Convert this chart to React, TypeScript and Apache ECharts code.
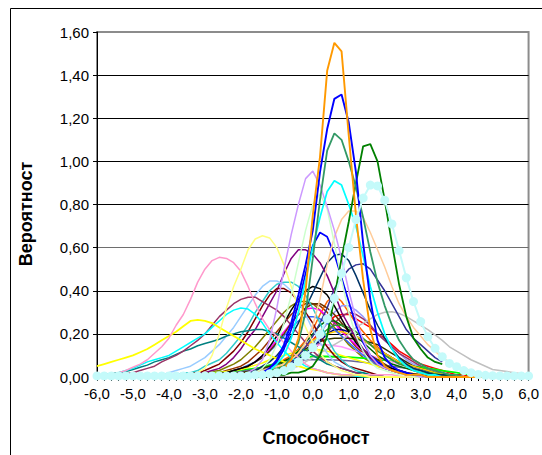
import React, { useEffect, useRef } from "react";
import * as echarts from "echarts";

// Ability categories (x axis), step 0.2
const abilityCategories = [
  -6.0, -5.8, -5.6, -5.4, -5.2, -5.0, -4.8, -4.6, -4.4, -4.2,
  -4.0, -3.8, -3.6, -3.4, -3.2, -3.0, -2.8, -2.6, -2.4, -2.2,
  -2.0, -1.8, -1.6, -1.4, -1.2, -1.0, -0.8, -0.6, -0.4, -0.2,
  0.0, 0.2, 0.4, 0.6, 0.8, 1.0, 1.2, 1.4, 1.6, 1.8,
  2.0, 2.2, 2.4, 2.6, 2.8, 3.0, 3.2, 3.4, 3.6, 3.8,
  4.0, 4.2, 4.4, 4.6, 4.8, 5.0, 5.2, 5.4, 5.6, 5.8, 6.0,
];
const yTicks = [0, 0.2, 0.4, 0.6, 0.8, 1.0, 1.2, 1.4, 1.6];

// ---- series values (rows of 10: -6..-4.2, -4..-2.2, -2..-0.2, 0..1.8, 2..3.8, 4..6.0) ----
const olive = [
  0, 0, 0, 0, 0, 0, 0, 0, 0, 0,
  0, 0.005, 0.01, 0.01, 0.015, 0.02, 0.025, 0.03, 0.045, 0.06,
  0.08, 0.11, 0.14, 0.18, 0.22, 0.26, 0.3, 0.33, 0.35, 0.35,
  0.34, 0.31, 0.27, 0.23, 0.19, 0.15, 0.12, 0.09, 0.07, 0.05,
  0.04, 0.03, 0.02, 0.015, 0.01, 0.01, 0, 0, 0, 0,
  0, 0, 0, 0, 0, 0, 0, 0, 0, 0, 0,
];
const rust = [
  0, 0, 0, 0, 0, 0, 0, 0, 0, 0,
  0, 0, 0, 0, 0, 0.01, 0.015, 0.02, 0.03, 0.04,
  0.05, 0.07, 0.1, 0.13, 0.17, 0.21, 0.25, 0.29, 0.32, 0.34,
  0.34, 0.33, 0.3, 0.26, 0.22, 0.18, 0.14, 0.11, 0.08, 0.06,
  0.04, 0.03, 0.02, 0.015, 0.01, 0.01, 0, 0, 0, 0,
  0, 0, 0, 0, 0, 0, 0, 0, 0, 0, 0,
];
const red = [
  0, 0, 0, 0, 0, 0, 0, 0, 0, 0,
  0, 0, 0, 0, 0, 0, 0.005, 0.01, 0.01, 0.015,
  0.02, 0.025, 0.03, 0.04, 0.05, 0.06, 0.07, 0.09, 0.11, 0.14,
  0.17, 0.21, 0.25, 0.28, 0.29, 0.29, 0.27, 0.25, 0.23, 0.2,
  0.18, 0.15, 0.12, 0.1, 0.08, 0.06, 0.05, 0.04, 0.03, 0.02,
  0.01, 0.01, 0, 0, 0, 0, 0, 0, 0, 0, 0,
];
const darkOrange = [
  0, 0, 0, 0, 0, 0, 0, 0, 0, 0,
  0, 0, 0, 0, 0, 0, 0.005, 0.01, 0.01, 0.015,
  0.02, 0.025, 0.03, 0.04, 0.05, 0.06, 0.08, 0.1, 0.13, 0.17,
  0.22, 0.29, 0.35, 0.38, 0.35, 0.3, 0.25, 0.21, 0.17, 0.14,
  0.11, 0.09, 0.07, 0.05, 0.04, 0.03, 0.02, 0.015, 0.01, 0.01,
  0, 0, 0, 0, 0, 0, 0, 0, 0, 0, 0,
];
const magenta = [
  0, 0, 0, 0, 0, 0, 0, 0, 0, 0,
  0, 0, 0, 0, 0, 0.005, 0.01, 0.015, 0.02, 0.025,
  0.035, 0.05, 0.07, 0.1, 0.13, 0.17, 0.21, 0.25, 0.29, 0.315,
  0.32, 0.31, 0.28, 0.25, 0.21, 0.18, 0.15, 0.12, 0.09, 0.07,
  0.05, 0.04, 0.03, 0.02, 0.015, 0.01, 0, 0, 0, 0,
  0, 0, 0, 0, 0, 0, 0, 0, 0, 0, 0,
];
const periwinkle = [
  0, 0, 0, 0, 0, 0, 0, 0, 0, 0,
  0, 0, 0, 0, 0, 0, 0, 0, 0, 0,
  0.01, 0.015, 0.02, 0.025, 0.03, 0.04, 0.05, 0.07, 0.09, 0.12,
  0.16, 0.2, 0.25, 0.3, 0.33, 0.33, 0.31, 0.28, 0.24, 0.2,
  0.17, 0.14, 0.11, 0.08, 0.06, 0.05, 0.04, 0.03, 0.02, 0.01,
  0, 0, 0, 0, 0, 0, 0, 0, 0, 0, 0,
];
const wine = [
  0, 0, 0, 0, 0, 0, 0, 0, 0, 0,
  0, 0, 0, 0, 0, 0, 0, 0, 0, 0,
  0.01, 0.01, 0.015, 0.02, 0.025, 0.03, 0.04, 0.05, 0.07, 0.09,
  0.12, 0.16, 0.2, 0.25, 0.28, 0.3, 0.29, 0.27, 0.24, 0.2,
  0.17, 0.14, 0.11, 0.09, 0.07, 0.05, 0.04, 0.03, 0.02, 0.01,
  0, 0, 0, 0, 0, 0, 0, 0, 0, 0, 0,
];
const greenFlat = [
  0.01, 0.01, 0.01, 0.01, 0.01, 0.01, 0.01, 0.01, 0.01, 0.01,
  0.01, 0.01, 0.012, 0.013, 0.015, 0.015, 0.017, 0.02, 0.022, 0.025,
  0.03, 0.035, 0.04, 0.045, 0.055, 0.063, 0.07, 0.08, 0.09, 0.092,
  0.095, 0.095, 0.095, 0.094, 0.093, 0.092, 0.09, 0.088, 0.085, 0.08,
  0.078, 0.072, 0.065, 0.058, 0.05, 0.045, 0.04, 0.035, 0.03, 0.025,
  0.02, 0.015, 0.01, 0.01, 0.005, 0.005, 0.005, 0.005, 0.005, 0.005, 0.005,
];
const grayBlue = [
  0, 0, 0, 0, 0, 0, 0, 0, 0, 0,
  0, 0, 0, 0, 0, 0.005, 0.01, 0.01, 0.015, 0.02,
  0.025, 0.03, 0.035, 0.04, 0.05, 0.055, 0.06, 0.07, 0.075, 0.08,
  0.08, 0.08, 0.08, 0.079, 0.078, 0.075, 0.072, 0.068, 0.064, 0.06,
  0.055, 0.05, 0.045, 0.04, 0.035, 0.03, 0.025, 0.02, 0.015, 0.01,
  0, 0, 0, 0, 0, 0, 0, 0, 0, 0, 0,
];
const lightMagenta = [
  0, 0, 0, 0, 0, 0, 0, 0, 0, 0,
  0, 0, 0, 0, 0, 0, 0, 0, 0, 0,
  0.01, 0.015, 0.02, 0.03, 0.04, 0.05, 0.07, 0.09, 0.11, 0.13,
  0.14, 0.15, 0.15, 0.145, 0.14, 0.13, 0.12, 0.11, 0.1, 0.09,
  0.08, 0.07, 0.06, 0.05, 0.04, 0.03, 0.02, 0.015, 0.01, 0.01,
  0, 0, 0, 0, 0, 0, 0, 0, 0, 0, 0,
];
const yellowLow = [
  0, 0, 0, 0, 0, 0, 0, 0, 0, 0,
  0, 0, 0, 0, 0, 0.01, 0.015, 0.02, 0.025, 0.03,
  0.035, 0.045, 0.055, 0.065, 0.08, 0.09, 0.1, 0.11, 0.12, 0.125,
  0.13, 0.125, 0.12, 0.11, 0.1, 0.09, 0.08, 0.07, 0.06, 0.05,
  0.04, 0.03, 0.025, 0.02, 0.015, 0.01, 0.01, 0, 0, 0,
  0, 0, 0, 0, 0, 0, 0, 0, 0, 0, 0,
];
const darkOlive = [
  0, 0, 0, 0, 0, 0, 0, 0, 0, 0,
  0, 0, 0, 0, 0, 0, 0.005, 0.01, 0.01, 0.015,
  0.02, 0.025, 0.03, 0.04, 0.05, 0.06, 0.075, 0.09, 0.11, 0.13,
  0.15, 0.165, 0.175, 0.18, 0.18, 0.18, 0.175, 0.17, 0.16, 0.15,
  0.13, 0.11, 0.09, 0.07, 0.05, 0.04, 0.03, 0.02, 0.015, 0.01,
  0, 0, 0, 0, 0, 0, 0, 0, 0, 0, 0,
];
const forest = [
  0, 0, 0, 0, 0, 0, 0, 0, 0, 0,
  0, 0, 0, 0, 0, 0, 0, 0, 0, 0,
  0.01, 0.015, 0.02, 0.03, 0.04, 0.05, 0.07, 0.09, 0.12, 0.16,
  0.2, 0.24, 0.26, 0.26, 0.24, 0.22, 0.19, 0.16, 0.13, 0.1,
  0.08, 0.06, 0.05, 0.04, 0.03, 0.02, 0.015, 0.01, 0.01, 0.005,
  0, 0, 0, 0, 0, 0, 0, 0, 0, 0, 0,
];
const navy = [
  0, 0, 0, 0, 0, 0, 0, 0, 0, 0,
  0, 0, 0, 0, 0, 0, 0, 0, 0, 0,
  0.005, 0.01, 0.015, 0.02, 0.025, 0.03, 0.04, 0.06, 0.08, 0.11,
  0.14, 0.17, 0.2, 0.22, 0.22, 0.21, 0.19, 0.17, 0.15, 0.13,
  0.11, 0.09, 0.07, 0.06, 0.05, 0.04, 0.03, 0.02, 0.015, 0.01,
  0, 0, 0, 0, 0, 0, 0, 0, 0, 0, 0,
];
const gold = [
  0, 0, 0, 0, 0, 0, 0, 0, 0, 0,
  0, 0, 0, 0, 0, 0, 0, 0, 0, 0,
  0.01, 0.015, 0.02, 0.025, 0.03, 0.04, 0.06, 0.08, 0.11, 0.14,
  0.17, 0.19, 0.2, 0.21, 0.21, 0.2, 0.19, 0.17, 0.15, 0.13,
  0.11, 0.09, 0.07, 0.06, 0.05, 0.04, 0.03, 0.02, 0.015, 0.01,
  0, 0, 0, 0, 0, 0, 0, 0, 0, 0, 0,
];
const steelBlue = [
  0, 0, 0, 0, 0, 0, 0, 0, 0, 0,
  0, 0, 0, 0, 0, 0.005, 0.01, 0.015, 0.02, 0.03,
  0.04, 0.055, 0.07, 0.09, 0.12, 0.15, 0.19, 0.23, 0.26, 0.28,
  0.28, 0.27, 0.25, 0.22, 0.19, 0.16, 0.13, 0.1, 0.08, 0.06,
  0.04, 0.03, 0.02, 0.015, 0.01, 0, 0, 0, 0, 0,
  0, 0, 0, 0, 0, 0, 0, 0, 0, 0, 0,
];
const darkBrown = [
  0, 0, 0, 0, 0, 0, 0, 0, 0, 0,
  0, 0, 0, 0, 0, 0.005, 0.01, 0.015, 0.02, 0.03,
  0.04, 0.05, 0.07, 0.09, 0.12, 0.16, 0.2, 0.25, 0.29, 0.32,
  0.34, 0.34, 0.32, 0.29, 0.25, 0.21, 0.17, 0.13, 0.1, 0.08,
  0.06, 0.04, 0.03, 0.02, 0.015, 0.01, 0, 0, 0, 0,
  0, 0, 0, 0, 0, 0, 0, 0, 0, 0, 0,
];
const leafGreen = [
  0, 0, 0, 0, 0, 0, 0, 0, 0, 0,
  0, 0, 0, 0, 0, 0, 0, 0, 0, 0,
  0.01, 0.015, 0.02, 0.025, 0.03, 0.04, 0.05, 0.07, 0.09, 0.12,
  0.15, 0.19, 0.22, 0.24, 0.24, 0.23, 0.21, 0.18, 0.15, 0.12,
  0.1, 0.08, 0.06, 0.05, 0.04, 0.03, 0.02, 0.015, 0.01, 0.01,
  0, 0, 0, 0, 0, 0, 0, 0, 0, 0, 0,
];
const black = [
  0, 0, 0, 0, 0, 0, 0, 0, 0, 0,
  0, 0, 0, 0, 0, 0.005, 0.01, 0.015, 0.02, 0.03,
  0.04, 0.05, 0.07, 0.1, 0.14, 0.19, 0.25, 0.31, 0.36, 0.4,
  0.42, 0.41, 0.38, 0.33, 0.27, 0.21, 0.16, 0.12, 0.09, 0.07,
  0.05, 0.04, 0.03, 0.02, 0.01, 0.01, 0, 0, 0, 0,
  0, 0, 0, 0, 0, 0, 0, 0, 0, 0, 0,
];
const silver = [
  0, 0, 0, 0, 0, 0, 0, 0, 0, 0,
  0, 0, 0, 0, 0, 0, 0, 0, 0, 0.005,
  0.005, 0.008, 0.01, 0.012, 0.015, 0.02, 0.025, 0.04, 0.05, 0.07,
  0.09, 0.11, 0.13, 0.15, 0.17, 0.2, 0.23, 0.25, 0.27, 0.29,
  0.3, 0.303, 0.295, 0.28, 0.26, 0.24, 0.22, 0.195, 0.17, 0.14,
  0.12, 0.1, 0.08, 0.065, 0.05, 0.035, 0.03, 0.025, 0.02, 0.015, 0.01,
];
const slate = [
  0, 0, 0, 0, 0, 0, 0, 0, 0, 0,
  0, 0, 0, 0, 0, 0, 0, 0, 0, 0,
  0, 0.005, 0.01, 0.015, 0.02, 0.03, 0.05, 0.07, 0.1, 0.14,
  0.19, 0.25, 0.32, 0.41, 0.46, 0.5, 0.52, 0.525, 0.5, 0.45,
  0.4, 0.34, 0.28, 0.22, 0.18, 0.15, 0.12, 0.09, 0.07, null,
  null, null, null, null, null, null, null, null, null, null, null,
];
const navyTeal = [
  0, 0, 0, 0, 0, 0, 0, 0, 0, 0,
  0, 0, 0, 0, 0, 0, 0, 0, 0, 0,
  0.01, 0.015, 0.03, 0.05, 0.07, 0.1, 0.14, 0.19, 0.25, 0.32,
  0.39, 0.46, 0.53, 0.565, 0.57, 0.54, 0.47, 0.39, 0.31, 0.24,
  0.18, 0.13, 0.09, 0.06, 0.04, 0.03, 0.02, 0.01, 0.01, 0.01,
  0, 0, 0, 0, 0, 0, 0, 0, 0, 0, 0,
];
const purple = [
  0, 0, 0, 0, 0, 0, 0, 0, 0, 0,
  0, 0, 0.01, 0.01, 0.02, 0.02, 0.03, 0.04, 0.06, 0.09,
  0.13, 0.18, 0.22, 0.28, 0.34, 0.4, 0.48, 0.55, 0.59, 0.59,
  0.57, 0.53, 0.47, 0.39, 0.3, 0.24, 0.18, 0.13, 0.09, 0.06,
  0.04, 0.03, 0.02, 0.01, 0.01, 0, 0, 0, 0, 0,
  0, 0, 0, 0, 0, 0, 0, 0, 0, 0, 0,
];
const maroon = [
  0, 0, 0, 0, 0, 0, 0, 0, 0, 0,
  0, 0.01, 0.01, 0.02, 0.02, 0.03, 0.045, 0.06, 0.09, 0.12,
  0.16, 0.21, 0.27, 0.33, 0.38, 0.41, 0.41, 0.39, 0.35, 0.3,
  0.25, 0.19, 0.14, 0.1, 0.07, 0.05, 0.04, 0.03, 0.02, 0.01,
  0, 0, 0, 0, 0, 0, 0, 0, 0, 0,
  0, 0, 0, 0, 0, 0, 0, 0, 0, 0, 0,
];
const turquoise = [
  0, 0, 0, 0, 0, 0, 0, 0, 0, 0,
  0.01, 0.01, 0.02, 0.02, 0.03, 0.05, 0.065, 0.08, 0.11, 0.15,
  0.19, 0.24, 0.3, 0.35, 0.4, 0.43, 0.44, 0.44, 0.42, 0.38,
  0.32, 0.25, 0.18, 0.12, 0.08, 0.05, 0.03, 0.02, 0.01, 0.01,
  0, 0, 0, 0, 0, 0, 0, 0, 0, 0,
  0, 0, 0, 0, 0, 0, 0, 0, 0, 0, 0,
];
const lightBlue = [
  0, 0, 0, 0, 0, 0, 0, 0, 0, 0.01,
  0.02, 0.03, 0.04, 0.05, 0.07, 0.09, 0.12, 0.15, 0.19, 0.23,
  0.28, 0.33, 0.38, 0.42, 0.445, 0.445, 0.43, 0.4, 0.35, 0.29,
  0.22, 0.16, 0.11, 0.07, 0.05, 0.03, 0.02, 0.01, 0.01, 0.01,
  0, 0, 0, 0, 0, 0, 0, 0, 0, 0,
  0, 0, 0, 0, 0, 0, 0, 0, 0, 0, 0,
];
const tealBroad = [
  0.005, 0.01, 0.015, 0.02, 0.025, 0.035, 0.045, 0.055, 0.07, 0.08,
  0.09, 0.105, 0.12, 0.13, 0.145, 0.155, 0.165, 0.175, 0.19, 0.2,
  0.21, 0.215, 0.22, 0.22, 0.21, 0.2, 0.18, 0.16, 0.14, 0.12,
  0.1, 0.08, 0.06, 0.05, 0.04, 0.03, 0.02, 0.02, 0.01, 0.01,
  0, 0, 0, 0, 0, 0, 0, 0, 0, 0,
  0, 0, 0, 0, 0, 0, 0, 0, 0, 0, 0,
];
const plumLeft = [
  0, 0.005, 0.01, 0.01, 0.015, 0.02, 0.03, 0.04, 0.05, 0.07,
  0.085, 0.1, 0.12, 0.145, 0.17, 0.2, 0.24, 0.28, 0.31, 0.34,
  0.36, 0.37, 0.37, 0.35, 0.33, 0.31, 0.28, 0.24, 0.2, 0.16,
  0.12, 0.09, 0.07, 0.05, 0.04, 0.03, 0.02, 0.01, 0.01, 0.01,
  0, 0, 0, 0, 0, 0, 0, 0, 0, 0,
  0, 0, 0, 0, 0, 0, 0, 0, 0, 0, 0,
];
const cyanBroad = [
  0.005, 0.008, 0.01, 0.02, 0.03, 0.04, 0.055, 0.07, 0.08, 0.09,
  0.1, 0.12, 0.14, 0.16, 0.18, 0.2, 0.23, 0.26, 0.29, 0.31,
  0.32, 0.315, 0.29, 0.25, 0.2, 0.16, 0.12, 0.09, 0.07, 0.05,
  0.04, 0.03, 0.02, 0.015, 0.01, 0.01, 0.005, 0, 0, 0,
  0, 0, 0, 0, 0, 0, 0, 0, 0, 0,
  0, 0, 0, 0, 0, 0, 0, 0, 0, 0, 0,
];
const yellowBroad = [
  0.05, 0.06, 0.07, 0.08, 0.09, 0.1, 0.115, 0.13, 0.15, 0.17,
  0.19, 0.21, 0.235, 0.26, 0.265, 0.26, 0.25, 0.23, 0.21, 0.19,
  0.17, 0.15, 0.13, 0.115, 0.1, 0.085, 0.07, 0.06, 0.05, 0.04,
  0.035, 0.03, 0.02, 0.015, 0.01, 0.01, 0.01, 0.005, 0, 0,
  0, 0, 0, 0, 0, 0, 0, 0, 0, 0,
  0, 0, 0, 0, 0, 0, 0, 0, 0, 0, 0,
];
const pink = [
  0, 0.005, 0.01, 0.02, 0.03, 0.045, 0.06, 0.08, 0.11, 0.14,
  0.18, 0.24, 0.29, 0.36, 0.44, 0.5, 0.54, 0.555, 0.55, 0.53,
  0.49, 0.42, 0.34, 0.27, 0.22, 0.19, 0.16, 0.12, 0.09, 0.06,
  0.04, 0.03, 0.02, 0.015, 0.01, 0.01, 0.01, 0.01, 0.01, 0.01,
  0.01, 0.01, 0.005, 0, 0, 0, 0, 0, 0, 0,
  0, 0, 0, 0, 0, 0, 0, 0, 0, 0, 0,
];
const paleYellow = [
  0, 0, 0, 0, 0, 0, 0, 0, 0, 0,
  0, 0, 0.01, 0.01, 0.02, 0.04, 0.1, 0.2, 0.32, 0.42,
  0.5, 0.59, 0.64, 0.655, 0.645, 0.6, 0.52, 0.42, 0.32, 0.23,
  0.16, 0.11, 0.07, 0.05, 0.03, 0.02, 0.01, 0.01, 0, 0,
  0, 0, 0, 0, 0, 0, 0, 0, 0, 0,
  0, 0, 0, 0, 0, 0, 0, 0, 0, 0, 0,
];
const blueMid = [
  0, 0, 0, 0, 0, 0, 0, 0, 0, 0,
  0, 0, 0, 0, 0, 0, 0, 0, 0, 0,
  0, 0.01, 0.01, 0.02, 0.04, 0.07, 0.13, 0.22, 0.34, 0.48,
  0.61, 0.67, 0.65, 0.57, 0.46, 0.35, 0.24, 0.16, 0.1, 0.07,
  0.05, 0.03, 0.02, 0.01, 0.01, 0, 0, 0, 0, 0,
  0, 0, 0, 0, 0, 0, 0, 0, 0, 0, 0,
];
const peach = [
  0, 0, 0, 0, 0, 0, 0, 0, 0, 0,
  0, 0, 0, 0, 0, 0, 0, 0, 0, 0,
  0.01, 0.01, 0.02, 0.03, 0.04, 0.05, 0.06, 0.08, 0.11, 0.16,
  0.24, 0.36, 0.52, 0.65, 0.73, 0.77, 0.77, 0.74, 0.67, 0.59,
  0.51, 0.42, 0.34, 0.28, 0.23, 0.19, 0.15, 0.12, 0.09, 0.07,
  0.05, 0.04, 0.03, 0.02, 0.01, 0.01, 0, 0, 0, 0, 0,
];
const paleGreen = [
  0, 0, 0, 0, 0, 0, 0, 0, 0, 0,
  0, 0, 0, 0, 0, 0, 0, 0, 0, 0,
  0, 0.01, 0.02, 0.04, 0.08, 0.15, 0.25, 0.38, 0.53, 0.68,
  0.8, 0.85, 0.78, 0.62, 0.45, 0.3, 0.19, 0.12, 0.07, 0.04,
  0.03, 0.02, 0.01, 0.01, 0, 0, 0, 0, 0, 0,
  0, 0, 0, 0, 0, 0, 0, 0, 0, 0, 0,
];
const lavender = [
  0, 0, 0, 0, 0, 0, 0, 0, 0, 0,
  0, 0, 0, 0, 0, 0, 0, 0, 0, 0.005,
  0.01, 0.02, 0.04, 0.08, 0.17, 0.32, 0.5, 0.66, 0.8, 0.92,
  0.955, 0.89, 0.79, 0.68, 0.55, 0.4, 0.27, 0.17, 0.1, 0.06,
  0.04, 0.03, 0.02, 0.01, 0.01, 0, 0, 0, 0, 0,
  0, 0, 0, 0, 0, 0, 0, 0, 0, 0, 0,
];
const cyanPeak = [
  0, 0, 0, 0, 0, 0, 0, 0, 0, 0,
  0, 0, 0, 0, 0, 0, 0, 0, 0, 0,
  0, 0.01, 0.01, 0.02, 0.03, 0.06, 0.1, 0.18, 0.3, 0.45,
  0.6, 0.74, 0.86, 0.91, 0.89, 0.8, 0.7, 0.56, 0.42, 0.3,
  0.2, 0.13, 0.08, 0.05, 0.03, 0.02, 0.01, 0.01, 0, 0,
  0, 0, 0, 0, 0, 0, 0, 0, 0, 0, 0,
];
const darkGreen = [
  0, 0, 0, 0, 0, 0, 0, 0, 0, 0,
  0, 0, 0, 0, 0, 0, 0, 0, 0, 0,
  0, 0, 0, 0, 0.01, 0.01, 0.01, 0.02, 0.02, 0.03,
  0.05, 0.1, 0.19, 0.37, 0.55, 0.72, 0.9, 1.07, 1.08, 1.0,
  0.82, 0.62, 0.43, 0.28, 0.18, 0.13, 0.09, 0.07, 0.06, null,
  null, null, null, null, null, null, null, null, null, null, null,
];
const seaGreen = [
  0, 0, 0, 0, 0, 0, 0, 0, 0, 0,
  0, 0, 0, 0, 0, 0, 0, 0, 0, 0,
  0, 0, 0, 0.01, 0.02, 0.03, 0.05, 0.09, 0.16, 0.3,
  0.55, 0.82, 1.05, 1.13, 1.1, 1.0, 0.88, 0.74, 0.58, 0.44,
  0.33, 0.24, 0.17, 0.12, 0.08, 0.06, 0.04, 0.03, 0.02, 0.01,
  0.01, 0, 0, 0, 0, 0, 0, 0, 0, 0, 0,
];
const bluePeak = [
  0, 0, 0, 0, 0, 0, 0, 0, 0, 0,
  0, 0, 0, 0, 0, 0, 0, 0, 0, 0,
  0, 0, 0.01, 0.02, 0.04, 0.08, 0.15, 0.25, 0.38, 0.52,
  0.68, 0.95, 1.15, 1.29, 1.31, 1.18, 0.95, 0.62, 0.36, 0.17,
  0.09, 0.05, 0.03, 0.02, 0.01, 0.01, 0, 0, 0, 0,
  0, 0, 0, 0, 0, 0, 0, 0, 0, 0, 0,
];
const orangePeak = [
  0, 0, 0, 0, 0, 0, 0, 0, 0, 0,
  0, 0, 0, 0, 0, 0, 0, 0, 0, 0,
  0, 0, 0, 0.01, 0.01, 0.02, 0.04, 0.08, 0.18, 0.4,
  0.75, 1.02, 1.42, 1.55, 1.51, 1.12, 0.75, 0.45, 0.22, 0.1,
  0.05, 0.03, 0.02, 0.01, 0.01, 0.01, 0, 0, 0, 0,
  0, 0, 0, 0, 0, 0, 0, 0, 0, 0, 0,
];
const cyanDots = [
  0.005, 0.005, 0.005, 0.005, 0.005, 0.005, 0.005, 0.005, 0.005, 0.005,
  0.005, 0.005, 0.005, 0.005, 0.005, 0.005, 0.005, 0.005, 0.005, 0.005,
  0.005, 0.005, 0.01, 0.01, 0.015, 0.02, 0.03, 0.048, 0.07, 0.1,
  0.136, 0.198, 0.27, 0.365, 0.48, 0.6, 0.73, 0.83, 0.89, 0.886,
  0.82, 0.71, 0.586, 0.46, 0.35, 0.257, 0.187, 0.133, 0.094, 0.063,
  0.048, 0.03, 0.02, 0.012, 0.008, 0.006, 0.005, 0.005, 0.005, 0.005, 0.005,
];

const curveList: [any[], string, number][] = [
  [olive, "#808000", 1.5],
  [rust, "#993300", 1.5],
  [red, "#FF0000", 1.5],
  [darkOrange, "#FF6600", 1.5],
  [magenta, "#FF00FF", 1.5],
  [periwinkle, "#9999FF", 1.5],
  [wine, "#993366", 1.5],
  [greenFlat, "#00FF00", 1.8],
  [grayBlue, "#666699", 1.5],
  [lightMagenta, "#FF99FF", 1.5],
  [yellowLow, "#FFFF00", 1.5],
  [darkOlive, "#333300", 1.5],
  [forest, "#006600", 1.5],
  [navy, "#000080", 1.5],
  [gold, "#FFCC00", 1.5],
  [steelBlue, "#3366FF", 1.5],
  [darkBrown, "#663300", 1.5],
  [leafGreen, "#339933", 1.5],
  [black, "#000000", 1.5],
  [silver, "#C0C0C0", 1.5],
  [slate, "#333399", 1.5],
  [navyTeal, "#003366", 1.5],
  [purple, "#800080", 1.5],
  [maroon, "#800000", 1.5],
  [turquoise, "#33CCCC", 1.5],
  [lightBlue, "#99CCFF", 1.5],
  [tealBroad, "#008080", 1.5],
  [plumLeft, "#993366", 1.5],
  [cyanBroad, "#00FFFF", 1.5],
  [yellowBroad, "#FFFF00", 1.8],
  [pink, "#FF99CC", 1.5],
  [paleYellow, "#FFFF80", 1.5],
  [blueMid, "#0000FF", 1.7],
  [peach, "#FFCC99", 1.5],
  [paleGreen, "#CCFFCC", 1.5],
  [lavender, "#CC99FF", 1.5],
  [cyanPeak, "#00FFFF", 1.7],
  [darkGreen, "#008000", 1.8],
  [seaGreen, "#339966", 1.8],
  [bluePeak, "#0000FF", 1.9],
  [orangePeak, "#FF9900", 1.9],
];

const FONT = "Liberation Sans, Arial, sans-serif";

export default function App() {
  const ref = useRef<HTMLDivElement>(null);
  useEffect(() => {
    if (!ref.current) return;
    const chart = echarts.init(ref.current, null, { renderer: "svg" });
    const series: any[] = curveList.map(([data, color, width], i) => ({
      type: "line",
      name: "s" + i,
      data,
      showSymbol: false,
      symbol: "none",
      smooth: false,
      lineStyle: { color, width },
      itemStyle: { color },
      z: 2,
    }));
    series.push({
      type: "line",
      name: "dots",
      data: cyanDots,
      symbol: "circle",
      symbolSize: 9,
      showSymbol: true,
      showAllSymbol: true,
      lineStyle: { color: "#C4FAFA", width: 2 },
      itemStyle: { color: "#C4FAFA", borderWidth: 0 },
      z: 3,
    });
    chart.setOption({
      animation: false,
      backgroundColor: "#ffffff",
      grid: {
        left: 97,
        right: 5,
        top: 32,
        bottom: 78,
        show: true,
        borderColor: "#8c8c8c",
        borderWidth: 2,
        backgroundColor: "transparent",
      },
      xAxis: {
        type: "category",
        data: abilityCategories,
        boundaryGap: false,
        axisLine: { show: true, lineStyle: { color: "#000", width: 1 } },
        axisTick: {
          show: true,
          interval: 0,
          length: 4,
          inside: false,
          lineStyle: { color: "#000" },
        },
        axisLabel: {
          interval: 4,
          margin: 9,
          color: "#000",
          fontSize: 15,
          fontFamily: FONT,
          formatter: (v: any) => Number(v).toFixed(1).replace(".", ","),
        },
        splitLine: { show: false },
      },
      yAxis: {
        type: "value",
        min: yTicks[0],
        max: yTicks[yTicks.length - 1],
        interval: 0.2,
        axisLine: { show: true, lineStyle: { color: "#000", width: 1 } },
        axisTick: { show: true, length: 4, lineStyle: { color: "#000" } },
        axisLabel: {
          margin: 8,
          color: "#000",
          fontSize: 15,
          fontFamily: FONT,
          formatter: (v: number) => v.toFixed(2).replace(".", ","),
        },
        splitLine: {
          show: true,
          lineStyle: {
            color: ["#000", "#000", "#000", "#6e6e6e", "#000", "#000", "#000", "#000", "#8c8c8c"],
            width: 1,
          },
        },
      },
      graphic: [
        {
          type: "rect",
          shape: { x: 10.5, y: 8.5, width: 600, height: 600 },
          style: { fill: "none", stroke: "#000", lineWidth: 1 },
          silent: true,
          z: -10,
        },
        {
          type: "text",
          x: 316,
          y: 438,
          style: {
            text: "Способност",
            font: "bold 18px " + FONT,
            fill: "#000",
            align: "center",
            verticalAlign: "middle",
            textAlign: "center",
            textVerticalAlign: "middle",
          },
        },
        {
          type: "text",
          x: 26,
          y: 214,
          rotation: Math.PI / 2,
          style: {
            text: "Вероятност",
            font: "bold 18px " + FONT,
            fill: "#000",
            align: "center",
            verticalAlign: "middle",
            textAlign: "center",
            textVerticalAlign: "middle",
          },
        },
      ],
      series,
    });
    return () => chart.dispose();
  }, []);
  return (
    <div
      ref={ref}
      style={{ position: "absolute", left: 0, top: 0, width: 542, height: 455 }}
    />
  );
}
